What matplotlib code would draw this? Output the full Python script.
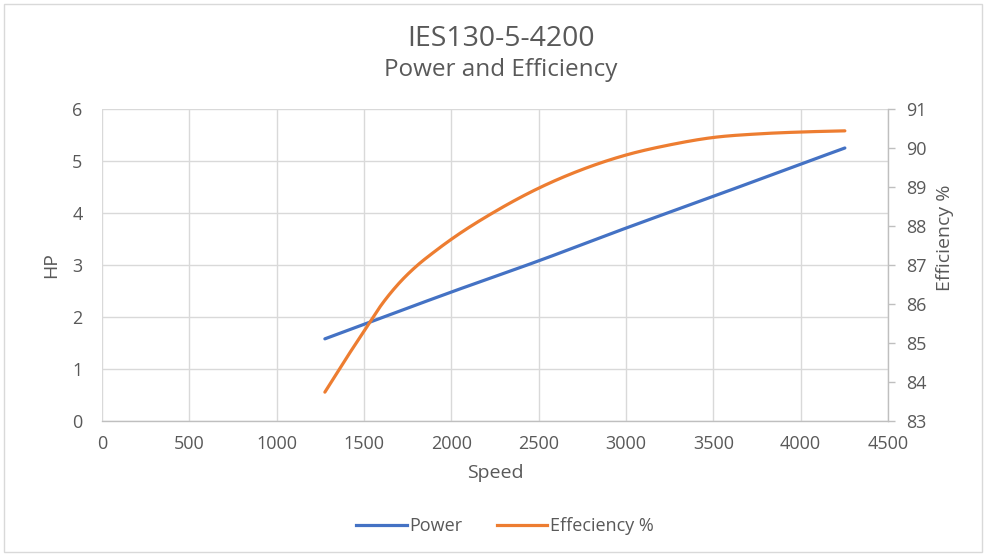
import numpy as np
import matplotlib
matplotlib.use("Agg")
import matplotlib.pyplot as plt
from matplotlib.patches import Rectangle
from matplotlib.lines import Line2D

# ---- data ----
power_speed = [1276, 1500, 2000, 2500, 3000, 3500, 4000, 4253]
power_hp = [1.58, 1.86, 2.48, 3.08, 3.71, 4.32, 4.94, 5.25]

eff_speed = [1276, 1400, 1500, 1600, 1700, 1800, 1900, 2000, 2250, 2500, 2750,
             3000, 3250, 3500, 3750, 4000, 4253]
eff_pct = [83.74, 84.62, 85.30, 85.98, 86.53, 86.97, 87.33, 87.66, 88.37, 88.97, 89.45,
           89.82, 90.08, 90.27, 90.36, 90.41, 90.44]

x_ticks = [0, 500, 1000, 1500, 2000, 2500, 3000, 3500, 4000, 4500]
hp_ticks = [0, 1, 2, 3, 4, 5, 6]
eff_ticks = [83, 84, 85, 86, 87, 88, 89, 90, 91]

title = "IES130-5-4200"
subtitle = "Power and Efficiency"

BLUE = "#4472C4"
ORANGE = "#ED7D31"
GRID = "#D9D9D9"
TXT = "#595959"

plt.rcParams['font.family'] = ['Open Sans', 'DejaVu Sans']


def smooth(x, y, n=30):
    """Cubic Hermite smoothing through the points (non-uniform three-point tangents)."""
    x = np.asarray(x, float)
    y = np.asarray(y, float)
    h = np.diff(x)
    s = np.diff(y) / h
    m = np.empty_like(y)
    m[0], m[-1] = s[0], s[-1]
    m[1:-1] = (h[1:] * s[:-1] + h[:-1] * s[1:]) / (h[:-1] + h[1:])
    xs, ys = [], []
    t = np.linspace(0, 1, n, endpoint=False)
    for i in range(len(x) - 1):
        h00 = 2 * t ** 3 - 3 * t ** 2 + 1
        h10 = t ** 3 - 2 * t ** 2 + t
        h01 = -2 * t ** 3 + 3 * t ** 2
        h11 = t ** 3 - t ** 2
        xs.append(x[i] + t * h[i])
        ys.append(h00 * y[i] + h10 * h[i] * m[i] + h01 * y[i + 1] + h11 * h[i] * m[i + 1])
    xs.append([x[-1]])
    ys.append([y[-1]])
    return np.concatenate(xs), np.concatenate(ys)


W, H = 985, 554
fig = plt.figure(figsize=(W / 100, H / 100), dpi=100)
fig.patch.set_facecolor("white")

# chart border
fig.add_artist(Rectangle((4 / W, 1 - 552 / H), 978 / W, 548 / H, transform=fig.transFigure,
                         fill=False, edgecolor="#D9D9D9", linewidth=1.0))

L, R, T, B = 102, 888, 109, 421
ax = fig.add_axes([L / W, 1 - B / H, (R - L) / W, (B - T) / H])
ax2 = ax.twinx()

ax.set_xlim(0, 4500)
ax.set_ylim(0, 6)
ax2.set_ylim(83, 91)

ax.set_xticks(x_ticks)
ax.set_yticks(hp_ticks)
ax2.set_yticks(eff_ticks)

ax.grid(True, color=GRID, linewidth=1.0)
ax.set_axisbelow(True)

for s in ["top", "right", "left", "bottom"]:
    ax.spines[s].set_visible(False)
for s in ["top", "left"]:
    ax2.spines[s].set_visible(False)
ax2.spines["bottom"].set_color("#BFBFBF")
ax2.spines["right"].set_color("#BFBFBF")
ax2.spines["bottom"].set_linewidth(1.0)
ax2.spines["right"].set_linewidth(1.0)

ax.tick_params(axis="x", length=0, pad=10, labelsize=13, labelcolor=TXT)
ax.tick_params(axis="y", length=0, pad=14, labelsize=13, labelcolor=TXT)
ax2.tick_params(axis="y", length=5, width=1, color="#BFBFBF", pad=8, labelsize=13, labelcolor=TXT)

sx, sy = smooth(power_speed, power_hp)
ax.plot(sx, sy, color=BLUE, linewidth=2.3, solid_capstyle="round", zorder=3)
ex, ey = smooth(eff_speed, eff_pct)
ax2.plot(ex, ey, color=ORANGE, linewidth=2.3, solid_capstyle="round", zorder=3)

# titles and labels
fig.text(501 / W, 1 - 39 / H, title, ha="center", va="center", fontsize=20.5, color=TXT)
fig.text(501 / W, 1 - 70 / H, subtitle, ha="center", va="center", fontsize=17.5, color=TXT)
fig.text(495 / W, 1 - 473 / H, "Speed", ha="center", va="center", fontsize=14, color=TXT)
fig.text(51 / W, 1 - 265 / H, "HP", ha="center", va="center", fontsize=14, color=TXT, rotation=90)
fig.text(945 / W, 1 - 238 / H, "Efficiency %", ha="center", va="center", fontsize=14, color=TXT, rotation=90)

handles = [Line2D([0], [0], color=BLUE, linewidth=2.3),
           Line2D([0], [0], color=ORANGE, linewidth=2.3)]
leg = fig.legend(handles, ["Power", "Effeciency %"], loc="center", bbox_to_anchor=(505 / W, 1 - 526 / H),
                 ncol=2, frameon=False, fontsize=13, handlelength=2.8, handletextpad=0.15,
                 columnspacing=1.9)
for t in leg.get_texts():
    t.set_color(TXT)

fig.savefig("out.png", dpi=100, facecolor="white")
